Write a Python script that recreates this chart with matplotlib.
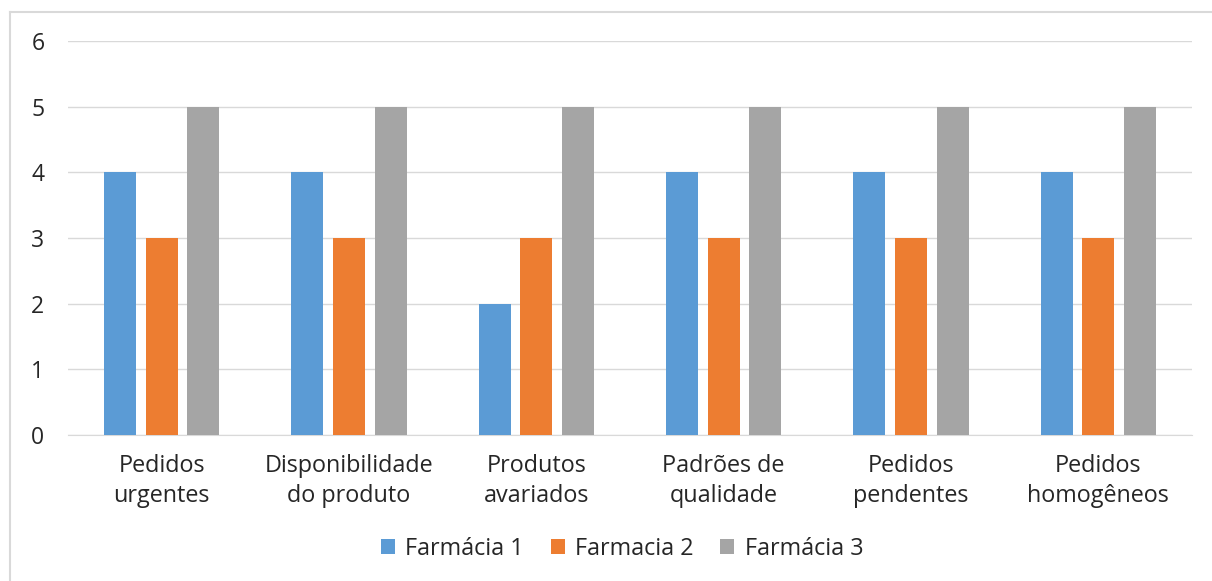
import matplotlib.pyplot as plt
import numpy as np
from matplotlib.lines import Line2D

categorias = ["Pedidos\nurgentes", "Disponibilidade\ndo produto", "Produtos\navariados",
              "Padrões de\nqualidade", "Pedidos\npendentes", "Pedidos\nhomogêneos"]
farmacia1 = [4, 4, 2, 4, 4, 4]
farmacia2 = [3, 3, 3, 3, 3, 3]
farmacia3 = [5, 5, 5, 5, 5, 5]
nomes = ["Farmácia 1", "Farmacia 2", "Farmácia 3"]
cores = ["#5B9BD5", "#ED7D31", "#A5A5A5"]

plt.rcParams['font.family'] = ['Open Sans', 'DejaVu Sans']

fig = plt.figure(figsize=(12.12, 5.81), dpi=100)
ax = fig.add_axes([68 / 1212, 1 - 435 / 581, (1192 - 68) / 1212, (435 - 41) / 581])

x = np.arange(len(categorias))
w = 0.171
passo = 0.222
for k, (vals, nome, cor) in enumerate(zip([farmacia1, farmacia2, farmacia3], nomes, cores)):
    ax.bar(x + (k - 1) * passo, vals, w, color=cor, label=nome, zorder=3)

ax.set_xlim(-0.5, len(categorias) - 0.5)
ax.set_ylim(0, 6)
ax.set_yticks(range(7))
ax.set_xticks(x)
ax.set_xticklabels(categorias, fontsize=16.8, color="#262626", linespacing=1.3)
ax.tick_params(axis='y', labelsize=16.5, labelcolor="#262626", length=0, pad=17)
ax.tick_params(axis='x', length=0, pad=14)
ax.grid(axis='y', color="#D9D9D9", linewidth=1, zorder=0)
for s in ['top', 'right', 'left']:
    ax.spines[s].set_visible(False)
ax.spines['bottom'].set_color("#D9D9D9")

leg = ax.legend(loc='center', bbox_to_anchor=(0.493, (435 - 549) / (435 - 41)),
                ncol=3, frameon=False, fontsize=16.8, handlelength=0.6, handleheight=0.6,
                handletextpad=0.45, columnspacing=1.15)
for t in leg.get_texts():
    t.set_color("#262626")

# borda do gráfico
fig.add_artist(Line2D([10 / 1212, 1], [1 - 12 / 581, 1 - 12 / 581], color="#D9D9D9", lw=1.5))
fig.add_artist(Line2D([10 / 1212, 10 / 1212], [0, 1 - 12 / 581], color="#D9D9D9", lw=1.5))

fig.savefig("out.png", dpi=100)
